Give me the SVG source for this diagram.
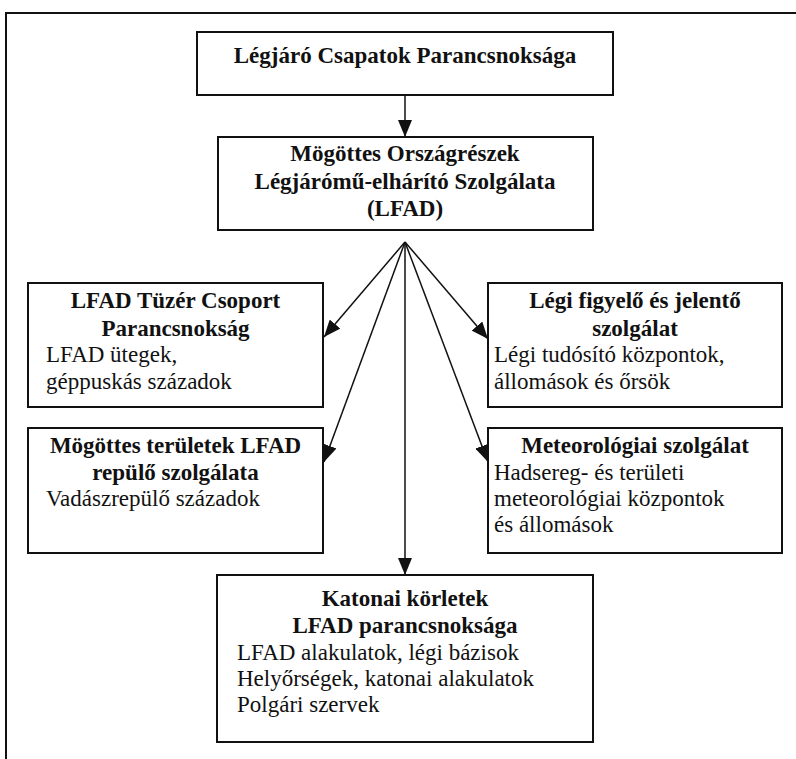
<svg xmlns="http://www.w3.org/2000/svg" width="796" height="759" viewBox="0 0 796 759">
<style>
.box{fill:#fff;stroke:#111;stroke-width:2}
.frame{fill:none;stroke:#111;stroke-width:2}
.t{font-family:"Liberation Serif","Times New Roman",serif;font-size:23px;fill:#111}
.b{font-weight:bold;text-anchor:middle}
.conn line{stroke:#111;stroke-width:1.5;marker-end:url(#ah)}
</style>
<defs>
<marker id="ah" markerUnits="userSpaceOnUse" markerWidth="18" markerHeight="14" refX="17" refY="7" orient="auto">
<path d="M0,0 L17,7 L0,14 z" fill="#111"/>
</marker>
</defs>
<rect width="796" height="759" fill="#fff"/>
<path class="frame" d="M6,759 L6,13 L796,13"/>
<g class="conn">
<line x1="405" y1="95" x2="405" y2="137"/>
<line x1="405" y1="242" x2="324" y2="337"/>
<line x1="405" y1="242" x2="324" y2="462"/>
<line x1="405" y1="242" x2="405" y2="575"/>
<line x1="405" y1="242" x2="488" y2="339"/>
<line x1="405" y1="242" x2="488" y2="462"/>
</g>
<g id="n1">
<rect class="box" x="197" y="32" width="416" height="63"/>
<text class="t b" x="405" y="63">Légjáró Csapatok Parancsnoksága</text>
</g>
<g id="n2">
<rect class="box" x="218" y="137" width="375" height="93"/>
<text class="t b" x="405" y="161">Mögöttes Országrészek</text>
<text class="t b" x="405" y="189">Légjárómű-elhárító Szolgálata</text>
<text class="t b" x="405" y="216">(LFAD)</text>
</g>
<g id="n3">
<rect class="box" x="28" y="283" width="295" height="124"/>
<text class="t b" x="175.5" y="308">LFAD Tüzér Csoport</text>
<text class="t b" x="175.5" y="336">Parancsnokság</text>
<text class="t" x="46" y="362">LFAD ütegek,</text>
<text class="t" x="46" y="389">géppuskás századok</text>
</g>
<g id="n4">
<rect class="box" x="28" y="428" width="295" height="125"/>
<text class="t b" x="175.5" y="453">Mögöttes területek LFAD</text>
<text class="t b" x="175.5" y="480">repülő szolgálata</text>
<text class="t" x="46" y="506">Vadászrepülő századok</text>
</g>
<g id="n5">
<rect class="box" x="488" y="283" width="294" height="124"/>
<text class="t b" x="635" y="308">Légi figyelő és jelentő</text>
<text class="t b" x="635" y="336">szolgálat</text>
<text class="t" x="494" y="362">Légi tudósító központok,</text>
<text class="t" x="494" y="389">állomások és őrsök</text>
</g>
<g id="n6">
<rect class="box" x="488" y="428" width="294" height="125"/>
<text class="t b" x="635" y="453">Meteorológiai szolgálat</text>
<text class="t" x="494" y="480">Hadsereg- és területi</text>
<text class="t" x="494" y="506">meteorológiai központok</text>
<text class="t" x="494" y="532">és állomások</text>
</g>
<g id="n7">
<rect class="box" x="217" y="575" width="376" height="167"/>
<text class="t b" x="405" y="606">Katonai körletek</text>
<text class="t b" x="405" y="633">LFAD parancsnoksága</text>
<text class="t" x="237" y="660">LFAD alakulatok, légi bázisok</text>
<text class="t" x="237" y="686">Helyőrségek, katonai alakulatok</text>
<text class="t" x="237" y="712">Polgári szervek</text>
</g>
</svg>
